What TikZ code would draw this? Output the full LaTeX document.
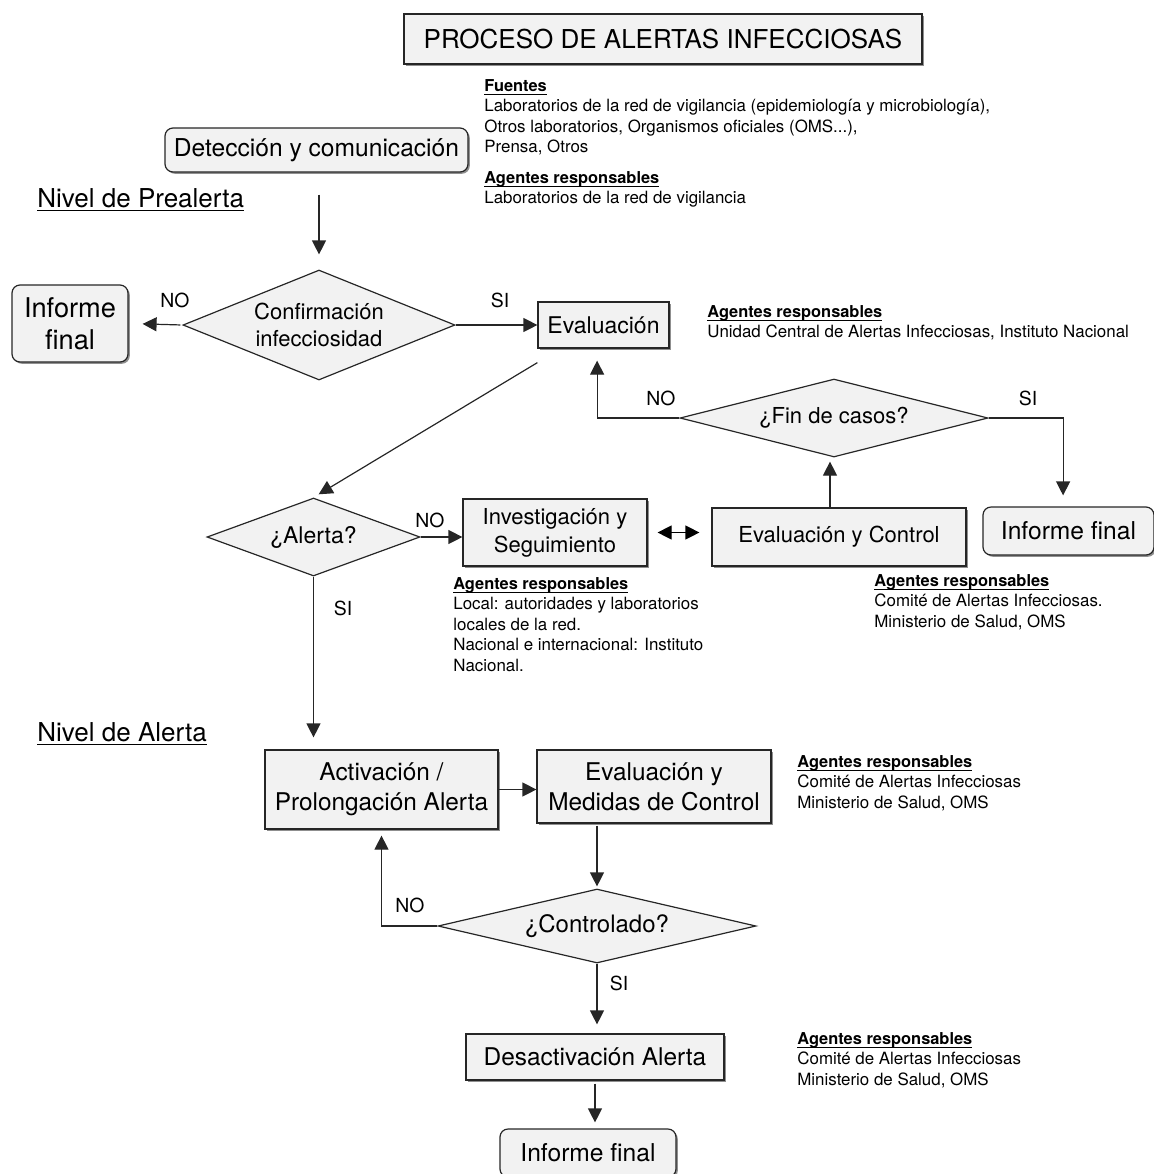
\documentclass[tikz,border=0pt]{standalone}
\usepackage{fontspec}
\setmainfont{TeX Gyre Heros}
\usetikzlibrary{shapes.geometric,arrows.meta,shadows}

\newcommand{\PAhead}[1]{{\fontsize{8.2}{10.25}\selectfont\bfseries\underline{\smash{#1}\vphantom{A}}}}
\tikzset{PAbox/.style={draw=black!85,fill=black!5,line width=0.6pt,inner sep=0pt,align=center,
           drop shadow={shadow xshift=0.9pt,shadow yshift=-0.9pt,fill=black!55,opacity=0.8}},
         PArbox/.style={PAbox,rounded corners=4pt},
         PAdia/.style={diamond,draw=black!85,fill=black!5,line width=0.6pt,inner sep=0pt,align=center},
         PAnote/.style={anchor=north west,inner sep=0pt,align=left,font=\fontsize{8.45}{10.25}\selectfont},
         PAlab/.style={inner sep=0pt,font=\fontsize{9.7}{11}\selectfont},
         PAniv/.style={anchor=base west,inner sep=0pt,font=\fontsize{13}{15}\selectfont},
         PAarr/.style={-{Triangle[length=7pt,width=7pt]},line width=0.6pt,draw=black!85}}

\begin{document}
\begin{tikzpicture}[x=0.5pt,y=-0.5pt]
  \useasboundingbox (0,0) rectangle (1154,1174);
  % cajas
  \node[PAbox,minimum width=259pt,minimum height=25pt,font=\fontsize{13}{15}\selectfont] (tit) at (663,39) {PROCESO DE ALERTAS INFECCIOSAS};
  \node[PArbox,minimum width=151.5pt,minimum height=22pt,font=\fontsize{12.3}{15}\selectfont] (det) at (316.5,150) {Detección y comunicación};
  \node[PArbox,minimum width=58pt,minimum height=38.5pt,font=\fontsize{13.6}{16}\selectfont] (inf1) at (70,323.5) {Informe\\final};
  \node[PAdia,minimum width=136pt,minimum height=55pt,aspect=2.5,font=\fontsize{11}{13.5}\selectfont] (conf) at (319,325) {Confirmación\\infecciosidad};
  \node[PAbox,minimum width=65.5pt,minimum height=23pt,font=\fontsize{11.5}{14}\selectfont] (eval) at (603.5,325) {Evaluación};
  \node[PAdia,minimum width=154pt,minimum height=39pt,aspect=4,font=\fontsize{11}{13}\selectfont] (fin) at (834,418) {¿Fin de casos?};
  \node[PArbox,minimum width=85.5pt,minimum height=24pt,font=\fontsize{12.3}{15}\selectfont] (inf2) at (1068.5,531) {Informe final};
  \node[PAbox,minimum width=127pt,minimum height=29pt,font=\fontsize{11}{14}\selectfont] (evc) at (839,537) {Evaluación y Control};
  \node[PAdia,minimum width=106.5pt,minimum height=39pt,aspect=3,font=\fontsize{11.5}{14}\selectfont] (alerta) at (313.5,537) {¿Alerta?};
  \node[PAbox,minimum width=92pt,minimum height=33.5pt,font=\fontsize{11}{14}\selectfont] (inv) at (555,532.5) {Investigación y\\Seguimiento};
  \node[PAbox,minimum width=116.5pt,minimum height=39.5pt,font=\fontsize{12.2}{15}\selectfont] (act) at (381.5,789.5) {Activación /\\Prolongación Alerta};
  \node[PAbox,minimum width=117pt,minimum height=36.5pt,font=\fontsize{12.2}{15}\selectfont] (emc) at (654,786.5) {Evaluación y\\Medidas de Control};
  \node[PAdia,minimum width=159pt,minimum height=37pt,aspect=4,font=\fontsize{12}{14}\selectfont] (ctrl) at (597,926) {¿Controlado?};
  \node[PAbox,minimum width=129pt,minimum height=23pt,font=\fontsize{12.2}{15}\selectfont] (des) at (595,1057) {Desactivación Alerta};
  \node[PArbox,minimum width=88pt,minimum height=24pt,font=\fontsize{12.3}{15}\selectfont] (inf3) at (588,1153) {Informe final};

  % niveles y notas
  \node[PAniv] (npre) at (37,207) {\underline{Nivel de Prealerta}};
  \node[PAniv] (nale) at (37,741) {\underline{Nivel de Alerta}};
  \node[PAnote] (fue) at (484,79) {\PAhead{Fuentes}\\Laboratorios de la red de vigilancia (epidemiología y microbiología),\\Otros laboratorios, Organismos oficiales (OMS...),\\Prensa, Otros};
  \foreach \x/\y/\n/\t in {484/171/ag1/{Laboratorios de la red de vigilancia},
                           707/305/ag2/{Unidad Central de Alertas Infecciosas, Instituto Nacional},
                           874/574/ag4/{Comité de Alertas Infecciosas.\\Ministerio de Salud, OMS},
                           797/755/ag5/{Comité de Alertas Infecciosas\\Ministerio de Salud, OMS},
                           797/1032/ag6/{Comité de Alertas Infecciosas\\Ministerio de Salud, OMS}}
    {\node[PAnote] (\n) at (\x,\y) {\PAhead{Agentes responsables}\\\t};}
  \node[PAnote] (ag3) at (453,577) {\PAhead{Agentes responsables}\\Local: autoridades y laboratorios\\locales de la red.\\Nacional e internacional: Instituto\\Nacional.};

  % etiquetas
  \foreach \x/\y/\n/\l in {175/300/l1/NO,500/300/l2/SI,661/398/l3/NO,1028/398/l4/SI,
                           430/520/l5/NO,343/608/l6/SI,410/905/l7/NO,619/983/l8/SI}
    {\node[PAlab] (\n) at (\x,\y) {\l};}

  % conectores
  \draw[PAarr,shorten <=11pt,shorten >=7.5pt] (det.south -| conf.north) -- (conf.north);
  \draw[PAarr,shorten <=1pt,shorten >=7pt] (conf.west) -- (inf1.east);
  \draw[PAarr] (conf.east) -- (eval.west);
  \draw[PAarr,shorten >=3pt] ([yshift=-7pt]eval.south west) -- (alerta.north);
  \draw[PAarr,shorten >=6pt] (fin.west) -| ([xshift=-3.2pt]eval.south);
  \draw[PAarr,shorten >=5.5pt] (fin.east) -| ([xshift=-2.7pt]inf2.north);
  \draw[PAarr,shorten >=2pt] ([xshift=-4.5pt]evc.north) -- ([xshift=-4.5pt]evc.north |- fin.south);
  \draw[PAarr] (alerta.east) -- (alerta.east -| inv.west);
  \draw[{Triangle[length=7pt,width=7pt]}-{Triangle[length=7pt,width=7pt]},line width=0.6pt,shorten <=5pt,shorten >=6pt] (inv.east) -- (inv.east -| evc.west);
  \draw[PAarr,shorten >=6pt] (alerta.south) -- (alerta.south |- act.north);
  \draw[PAarr] (act.east) -- (act.east -| emc.west);
  \draw[PAarr,shorten <=1pt,shorten >=1pt] (ctrl.north |- emc.south) -- (ctrl.north);
  \draw[PAarr,shorten >=3pt] (ctrl.west) -| (act.south);
  \draw[PAarr,shorten >=4.5pt] (ctrl.south) -- (ctrl.south |- des.north);
  \draw[PAarr,shorten <=1.5pt,shorten >=3pt] (des.south) -- (des.south |- inf3.north);
\end{tikzpicture}
\end{document}
